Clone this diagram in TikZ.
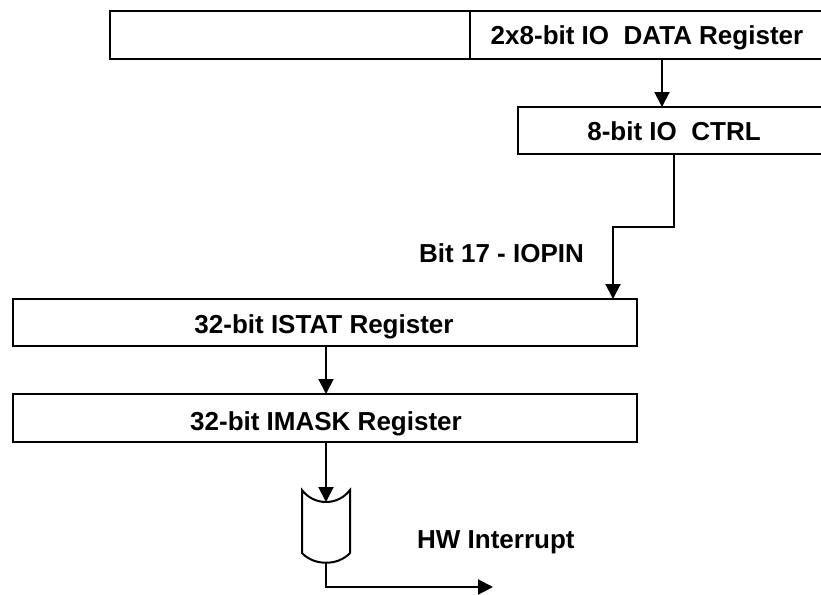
\documentclass[tikz,border=0pt]{standalone}
\usepackage{fontspec}
\setmainfont{Liberation Sans}
\usetikzlibrary{arrows.meta}
\begin{document}
\begin{tikzpicture}[x=1pt,y=-1pt,
  reg/.style={rectangle, inner sep=0pt, outer sep=0pt, line width=2pt},
  lbl/.style={font=\fontsize{26}{30}\selectfont\bfseries, inner sep=0pt, anchor=base},
  wire/.style={line width=2pt},
  arr/.style={wire, -{Triangle[width=15pt,length=15pt]}}]
\useasboundingbox (0,0) rectangle (821,594);

% register blocks (the two upper ones continue past the right margin)
\node[reg, minimum width=711pt, minimum height=48pt] (data) at (465.5,35) {};
\node[reg, minimum width=303pt, minimum height=47pt] (ctrl) at (669.5,130.5) {};
\node[reg, draw, minimum width=624pt, minimum height=47pt] (istat) at (325,322.5) {};
\node[reg, draw, minimum width=624pt, minimum height=48pt] (imask) at (325,418) {};
\node[reg, minimum width=48pt, minimum height=63pt] (gate) at (326,521.5) {};

\draw[wire] (data.north east) -- (data.north west) -- (data.south west) -- (data.south east);
\coordinate (split) at (470,0);
\draw[wire] (data.north -| split) -- (data.south -| split);
\draw[wire] (ctrl.north east) -- (ctrl.north west) -- (ctrl.south west) -- (ctrl.south east);

% gate body: concave input side, rounded output side
\draw[wire] (gate.north west) .. controls +(12,16) and +(-12,16) .. (gate.north east)
  -- (gate.south east) .. controls +(-12,13) and +(12,13) .. (gate.south west) -- cycle;

% labels
\node[lbl] (datatext) at (647,45) {2x8-bit IO\ \ DATA Register};
\node[lbl] (ctrltext) at (674,140) {8-bit IO\ \ CTRL};
\node[lbl] (istattext) at (324,333) {32-bit ISTAT Register};
\node[lbl] (imasktext) at (326,430) {32-bit IMASK Register};
\node[lbl, anchor=base west] (pinlbl) at (419,262) {Bit 17 - IOPIN};
\node[lbl, anchor=base west] (irqlbl) at (417,548) {HW Interrupt};

% connectors
\coordinate (feed) at (662,0);
\draw[arr] (data.south -| feed) -- (ctrl.north -| feed);

\coordinate (drop) at (674,227);
\coordinate (jog) at (613,227);
\draw[arr] (ctrl.south -| drop) -- (drop) -- (jog) -- (istat.north -| jog);

\coordinate (chain) at (326,0);
\draw[arr] (istat.south -| chain) -- (imask.north -| chain);
\draw[arr] (imask.south -| chain) -- ([yshift=-12pt]gate.north);

\coordinate (hw) at (493,587);
\draw[arr] ([yshift=-10pt]gate.south) |- (hw);
\end{tikzpicture}
\end{document}
